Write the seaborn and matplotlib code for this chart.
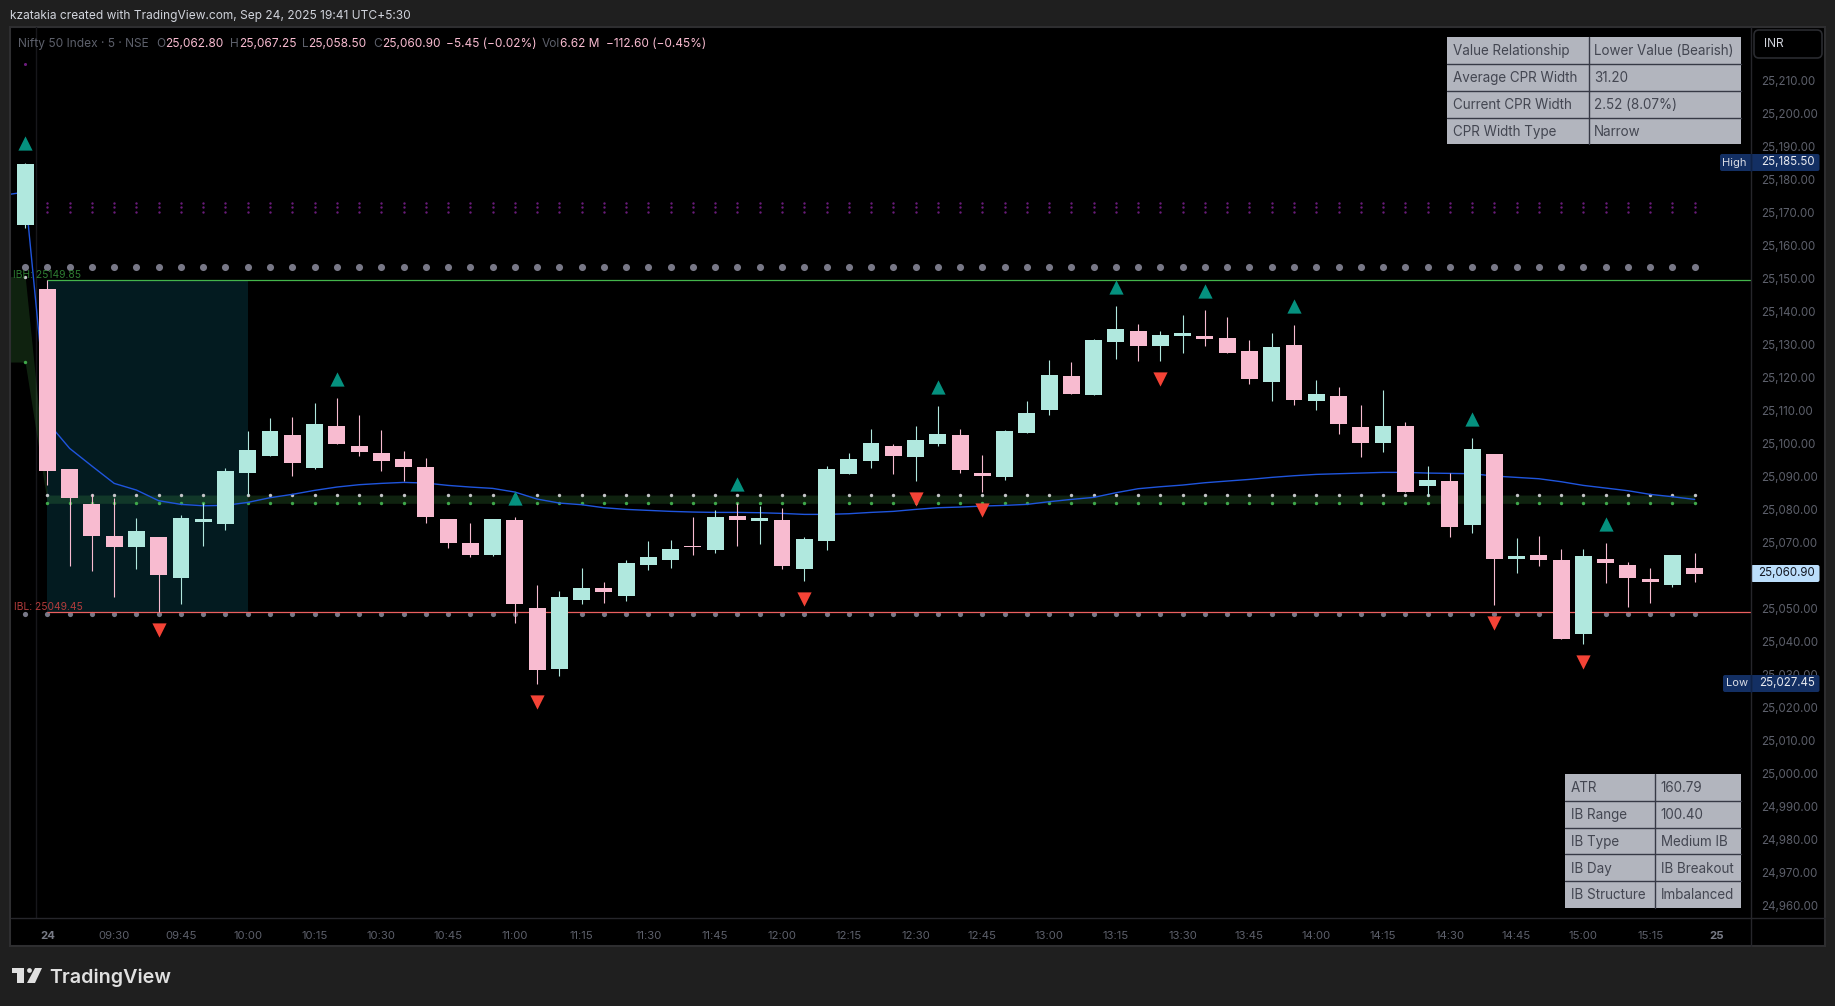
import matplotlib
matplotlib.use('Agg')
import pandas as pd
import seaborn as sns
import matplotlib.pyplot as plt
from matplotlib.patches import Rectangle, FancyBboxPatch, Polygon, Circle
from matplotlib.transforms import ScaledTranslation

WIDTH, HEIGHT = 1835, 1006

# bar number 0 is 09:15 on the 24th, -1 and -2 are the end of the day before
bar_index = list(range(-2, 75))

opens = [25168.4, 25166.6,
         25147.2, 25092.67, 25082.07, 25072.37, 25069.04, 25072.07, 25059.65, 25076.62, 25076.01, 25091.46,
         25096.61, 25102.97, 25092.98, 25105.70, 25099.64, 25097.52, 25095.70, 25093.28, 25077.52, 25070.25,
         25066.62, 25077.22, 25050.56, 25032.08, 25052.98, 25056.62, 25054.20, 25063.59, 25065.10, 25069.34,
         25068.13, 25078.43, 25076.92, 25077.22, 25062.38, 25070.86, 25091.16, 25095.10, 25099.64, 25096.31,
         25100.25, 25102.97, 25091.46, 25090.25, 25103.58, 25110.55, 25120.85, 25115.11, 25131.17, 25134.50,
         25129.96, 25132.98, 25132.98, 25132.38, 25128.44, 25119.05, 25130.26, 25113.28, 25114.81, 25105.40,
         25100.55, 25105.70, 25087.52, 25089.04, 25075.71, 25097.22, 25065.41, 25066.62, 25065.10, 25042.68,
         25065.41, 25063.59, 25059.35, 25057.53, 25062.80]
highs = [25168.4, 25185.50,
         25149.85, 25092.67, 25085.10, 25083.89, 25077.83, 25072.07, 25078.74, 25082.37, 25092.98, 25104.19,
         25108.12, 25108.43, 25112.67, 25114.18, 25109.03, 25104.49, 25098.13, 25096.01, 25077.52, 25076.31,
         25077.52, 25078.13, 25057.53, 25055.71, 25062.68, 25058.44, 25065.10, 25070.86, 25071.16, 25078.13,
         25080.25, 25082.37, 25081.46, 25080.86, 25072.07, 25093.58, 25097.52, 25104.79, 25100.25, 25105.70,
         25111.76, 25104.79, 25096.92, 25104.49, 25113.28, 25125.70, 25125.09, 25132.08, 25142.07, 25136.62,
         25134.50, 25139.35, 25140.86, 25138.74, 25131.77, 25133.89, 25136.32, 25119.65, 25117.53, 25112.06,
         25116.61, 25106.91, 25093.58, 25091.46, 25102.07, 25097.22, 25071.77, 25072.37, 25068.44, 25068.44,
         25070.25, 25064.50, 25062.68, 25066.62, 25067.25]
lows = [25165.1, 25165.8,
        25087.8, 25063.29, 25061.77, 25053.89, 25062.38, 25049.45, 25051.77, 25069.34, 25074.19, 25084.80,
        25096.61, 25090.55, 25092.67, 25100.25, 25096.61, 25092.07, 25089.04, 25076.31, 25068.74, 25066.01,
        25066.32, 25046.02, 25027.45, 25029.96, 25051.77, 25052.08, 25052.68, 25062.07, 25062.68, 25066.62,
        25067.22, 25069.34, 25069.95, 25062.38, 25058.74, 25068.13, 25091.16, 25092.98, 25091.16, 25089.04,
        25099.64, 25091.46, 25085.71, 25089.34, 25103.58, 25109.03, 25115.40, 25115.11, 25126.02, 25125.41,
        25125.41, 25127.83, 25129.96, 25127.83, 25118.44, 25113.29, 25112.08, 25110.55, 25103.28, 25096.31,
        25097.82, 25085.71, 25084.49, 25072.07, 25073.28, 25051.47, 25061.16, 25063.29, 25041.17, 25039.65,
        25058.14, 25050.86, 25052.08, 25056.92, 25058.50]
closes = [25165.1, 25185.08,
          25092.07, 25083.89, 25072.37, 25069.04, 25073.89, 25060.56, 25077.83, 25077.52, 25092.07, 25098.43,
          25104.19, 25094.49, 25106.31, 25100.25, 25097.82, 25095.10, 25093.28, 25078.13, 25070.25, 25066.62,
          25077.52, 25051.77, 25031.78, 25053.89, 25056.62, 25055.41, 25064.19, 25066.01, 25068.44, 25069.04,
          25078.13, 25077.22, 25077.83, 25063.29, 25071.47, 25092.67, 25095.70, 25100.55, 25096.61, 25101.46,
          25103.28, 25092.37, 25090.55, 25104.19, 25109.64, 25121.15, 25115.40, 25131.77, 25135.11, 25129.96,
          25133.29, 25133.89, 25132.08, 25127.83, 25119.96, 25129.65, 25113.59, 25115.41, 25106.31, 25100.55,
          25105.70, 25085.71, 25089.34, 25075.10, 25098.73, 25065.41, 25066.32, 25065.10, 25041.17, 25066.32,
          25064.19, 25059.65, 25058.44, 25066.62, 25060.90]

# blue average line
vwap = [25175.60, 25176.60,
        25106.92, 25098.93, 25093.58, 25088.33, 25086.31, 25083.08, 25081.97, 25081.56, 25081.67, 25082.57,
        25083.99, 25085.00, 25086.21, 25087.22, 25087.93, 25088.33, 25088.63, 25088.43, 25087.72, 25087.22,
        25086.82, 25085.71, 25083.58, 25082.37, 25081.87, 25080.96, 25080.45, 25080.15, 25079.85, 25079.65,
        25079.54, 25079.54, 25079.44, 25079.24, 25078.94, 25078.94, 25079.14, 25079.54, 25079.85, 25080.45,
        25080.96, 25081.16, 25081.46, 25081.67, 25081.97, 25082.78, 25083.48, 25084.09, 25085.50, 25086.72,
        25087.32, 25087.83, 25088.53, 25089.04, 25089.54, 25090.15, 25090.65, 25091.06, 25091.26, 25091.46,
        25091.66, 25091.66, 25091.46, 25091.36, 25091.26, 25090.55, 25090.15, 25089.74, 25088.84, 25087.72,
        25086.92, 25086.11, 25085.00, 25084.29, 25083.48]

# levels, previous day then today
cpr_top = [25151.0, 25151.0] + [25084.8] * 75
cpr_bottom = [25125.1, 25125.1] + [25082.3] * 75
pivot_high = 25153.8
pivot_low = 25048.85
purple_levels = [25173.4, 25172.0, 25170.6]
purple_prev = 25215.3
ib_high = 25149.85
ib_low = 25049.45
ib_start, ib_end = 0, 9

up_bars = [-1, 13, 21, 31, 40, 48, 52, 56, 64, 70]
up_prices = [25191.35, 25119.94, 25083.79, 25088.13, 25117.52, 25147.73, 25146.62, 25142.07, 25107.72, 25076.01]
down_bars = [5, 22, 34, 39, 42, 50, 65, 69]
down_prices = [25044.0, 25022.1, 25053.19, 25083.48, 25080.15, 25119.85, 25045.92, 25034.10]

# 25,060.00 sits under the last price tag in the picture
price_ticks = [p for p in range(24960, 25220, 10) if p != 25060]
time_ticks = list(range(0, 78, 3))
time_labels = ['24', '09:30', '09:45', '10:00', '10:15', '10:30', '10:45', '11:00', '11:15', '11:30', '11:45',
               '12:00', '12:15', '12:30', '12:45', '13:00', '13:15', '13:30', '13:45', '14:00', '14:15', '14:30',
               '14:45', '15:00', '15:15', '25']

cpr_table = [['Value Relationship', 'Lower Value (Bearish)'],
             ['Average CPR Width', '31.20'],
             ['Current CPR Width', '2.52 (8.07%)'],
             ['CPR Width Type', 'Narrow']]
ib_table = [['ATR', '160.79'],
            ['IB Range', '100.40'],
            ['IB Type', 'Medium IB'],
            ['IB Day', 'IB Breakout'],
            ['IB Structure', 'Imbalanced']]

MINT = '#b0e8de'
PINK = '#f8bbd0'
TEAL = '#05917f'
RED = '#f44336'
BLUE = '#1f55dd'
PAGE = '#1f1f1f'
FRAME = '#2e2e30'
AXIS_LINE = '#26262b'
TICK_TEXT = '#5d606b'

sns.set_theme(style='dark')
plt.rcParams['font.family'] = ['Inter', 'DejaVu Sans']

fig = plt.figure(figsize=(WIDTH / 100, HEIGHT / 100), dpi=100, facecolor=PAGE)

# background in pixel coordinates
bg = fig.add_axes([0, 0, 1, 1], zorder=0)
bg.set_xlim(0, WIDTH)
bg.set_ylim(HEIGHT, 0)
bg.axis('off')
bg.add_patch(Rectangle((10, 27), 1815, 919, fc='black', ec=FRAME, lw=1.5))

# price panel
left, right, top, bottom = 11, 1751, 27, 918
ax = fig.add_axes([left / WIDTH, 1 - bottom / HEIGHT, (right - left) / WIDTH, (bottom - top) / HEIGHT], zorder=1)
ax.set_facecolor('none')
ax.set_xlim(-1.635, 76.53)
ax.set_ylim(24956.66, 25226.6)
for spine in ax.spines.values():
    spine.set_visible(False)
ax.grid(False)

candles = pd.DataFrame({'bar': bar_index, 'open': opens, 'high': highs, 'low': lows, 'close': closes})
candles['body_low'] = candles[['open', 'close']].min(axis=1)
candles['body_high'] = candles[['open', 'close']].max(axis=1)
candles['color'] = [MINT if c >= o else PINK for o, c in zip(opens, closes)]

# opening range box and cpr band
ax.fill_between([ib_start, ib_end], ib_low, ib_high, color='#031b20', lw=0, zorder=1)
ax.fill_between(bar_index, cpr_bottom, cpr_top, color='#4caf50', alpha=0.2, lw=0, zorder=2)
ax.axvline(-0.52, color='#17171b', lw=1, zorder=1)

# dotted levels
sns.scatterplot(x=bar_index[1:], y=[pivot_high] * 76, ax=ax, s=26, color='#787887', linewidth=0, legend=False, zorder=3)
sns.scatterplot(x=bar_index[1:], y=[pivot_low] * 76, ax=ax, s=14, color='#787887', linewidth=0, legend=False, zorder=3)
sns.scatterplot(x=bar_index[1:], y=cpr_top[1:], ax=ax, s=6, color='#c4c4c8', linewidth=0, legend=False, zorder=3)
sns.scatterplot(x=bar_index[1:], y=cpr_bottom[1:], ax=ax, s=6, color='#3fa84a', linewidth=0, legend=False, zorder=3)
for level in purple_levels:
    sns.scatterplot(x=bar_index[2:], y=[level] * 75, ax=ax, s=3, color='#6a1b7a', linewidth=0, legend=False, zorder=3)
sns.scatterplot(x=[-1], y=[purple_prev], ax=ax, s=5, color='#6a1b7a', linewidth=0, legend=False, zorder=3)

ax.hlines(ib_high, 0, 76.53, color='#44b54c', lw=0.9, zorder=4)
ax.hlines(ib_low, 0, 76.53, color='#ea5f5f', lw=0.9, zorder=4)

sns.lineplot(x=bar_index, y=vwap, ax=ax, color=BLUE, lw=1, errorbar=None, zorder=4)

# candles
ax.vlines(candles['bar'], candles['low'], candles['high'], colors=candles['color'], lw=0.8, zorder=5)
ax.bar(candles['bar'], candles['body_high'] - candles['body_low'], bottom=candles['body_low'],
       width=0.76, color=candles['color'], lw=0, zorder=6)

sns.scatterplot(x=up_bars, y=up_prices, ax=ax, marker='^', s=105, color=TEAL, linewidth=0, legend=False, zorder=7)
sns.scatterplot(x=down_bars, y=down_prices, ax=ax, marker='v', s=105, color=RED, linewidth=0, legend=False, zorder=7)

ax.set_xlabel('')
ax.set_ylabel('')
ax.set_yticks(price_ticks)
ax.set_yticklabels([f'{p:,.2f}' for p in price_ticks])
ax.yaxis.tick_right()
ax.tick_params(axis='y', length=0, pad=7, labelsize=8.3, labelcolor=TICK_TEXT)
ax.set_xticks(time_ticks)
ax.set_xticklabels(time_labels)
ax.tick_params(axis='x', length=0, pad=9.3, labelsize=8.2, labelcolor=TICK_TEXT)
for lab, text in zip(ax.get_xticklabels(), time_labels):
    if text in ('24', '25'):
        lab.set_fontweight('bold')
        lab.set_color('#787b86')
# the price labels stand a little above their level
nudge = ScaledTranslation(0, 1.5 / 100, fig.dpi_scale_trans)
for lab in ax.get_yticklabels():
    lab.set_transform(lab.get_transform() + nudge)

# everything else sits on top, again in pixel coordinates
top_ax = fig.add_axes([0, 0, 1, 1], zorder=2)
top_ax.set_xlim(0, WIDTH)
top_ax.set_ylim(HEIGHT, 0)
top_ax.axis('off')
top_ax.patch.set_alpha(0)


def label(x, y, text, color, size=8.6, ha='left', weight='normal'):
    top_ax.text(x, y, text, color=color, fontsize=size, ha=ha, va='center', fontweight=weight)


top_ax.plot([11, 1825], [918, 918], color=AXIS_LINE, lw=1)
top_ax.plot([1751, 1751], [27, 946], color=AXIS_LINE, lw=1)

label(10, 15.5, 'kzatakia created with TradingView.com, Sep 24, 2025 19:41 UTC+5:30', '#d1d4dc', size=8.6)

# ohlc legend line
GREY = '#5d606b'
label(18, 44.3, 'Nifty 50 Index · 5 · NSE', GREY)
for x, text, color in [(156, 'O', GREY), (165, '25,062.80', PINK), (230, 'H', GREY), (239, '25,067.25', PINK),
                       (302, 'L', GREY), (308, '25,058.50', PINK), (373, 'C', GREY), (382, '25,060.90', PINK),
                       (446, '−5.45 (−0.02%)', PINK), (542, 'Vol', GREY), (560, '6.62 M', PINK),
                       (606, '−112.60 (−0.45%)', PINK)]:
    label(x, 44.3, text, color, size=8.55)

label(13, 275.5, 'IBH: 25149.85', '#2e7d32', size=7.4)
label(14, 607.5, 'IBL: 25049.45', '#b23c3c', size=7.4)


def draw_table(rows, x0, x1, split, y0, row_h, text_x):
    top_ax.add_patch(Rectangle((x0, y0), x1 - x0, row_h * len(rows), fc='#b2b5be', ec='none'))
    for i, row in enumerate(rows):
        y = y0 + row_h * (i + 0.5) + 1
        label(x0 + 5.5, y, row[0], '#434651', size=9.7)
        label(text_x, y, row[1], '#434651', size=9.7)
        if i:
            top_ax.plot([x0, x1], [y0 + row_h * i] * 2, color='#363945', lw=1)
    top_ax.plot([split, split], [y0, y0 + row_h * len(rows)], color='#363945', lw=1)


draw_table(cpr_table, 1447, 1741, 1588.5, 37, 26.85, 1594.3)
draw_table(ib_table, 1565, 1741, 1654.5, 774, 26.75, 1660.5)

# currency button
top_ax.add_patch(FancyBboxPatch((1757, 33), 62, 22, boxstyle='round,pad=3,rounding_size=5', fc='black', ec='#2a2b30', lw=1.2))
label(1764, 44, 'INR', '#d1d4dc', size=8.6)

# price tags
NAVY = '#132f63'
top_ax.add_patch(FancyBboxPatch((1721, 155), 97.5, 15, boxstyle='round,pad=1,rounding_size=2', fc=NAVY, ec='none'))
label(1734.7, 162.5, 'High', '#d8dbe4', size=8, ha='center')
label(1815, 161.5, '25,185.50', '#e8eaf0', size=8.3, ha='right')
top_ax.add_patch(FancyBboxPatch((1724, 676), 94.5, 15, boxstyle='round,pad=1,rounding_size=2', fc=NAVY, ec='none'))
label(1736.7, 683.5, 'Low', '#d8dbe4', size=8, ha='center')
label(1815, 682.5, '25,027.45', '#e8eaf0', size=8.3, ha='right')
top_ax.plot([1751, 1751], [154, 171], color='#0e2247', lw=1)
top_ax.plot([1751, 1751], [675, 692], color='#0e2247', lw=1)
top_ax.add_patch(FancyBboxPatch((1752, 566), 66.5, 15, boxstyle='round,pad=1,rounding_size=2', fc='#bbdefb', ec='none'))
label(1815, 572.5, '25,060.90', '#131722', size=8.3, ha='right')

# logo
LOGO = '#e0e0e0'
top_ax.add_patch(Polygon([(12, 968), (24, 968), (24, 983), (17, 983), (17, 973), (12, 973)], fc=LOGO, ec='none'))
top_ax.add_patch(Circle((29.5, 970.5), 2.4, fc=LOGO, ec='none'))
top_ax.add_patch(Polygon([(35, 968), (42, 968), (35, 983), (27, 983)], fc=LOGO, ec='none'))
label(49, 978, 'TradingView', LOGO, size=14.2, weight='semibold')

plt.savefig('out.png', dpi=100, facecolor=PAGE)
plt.close()
